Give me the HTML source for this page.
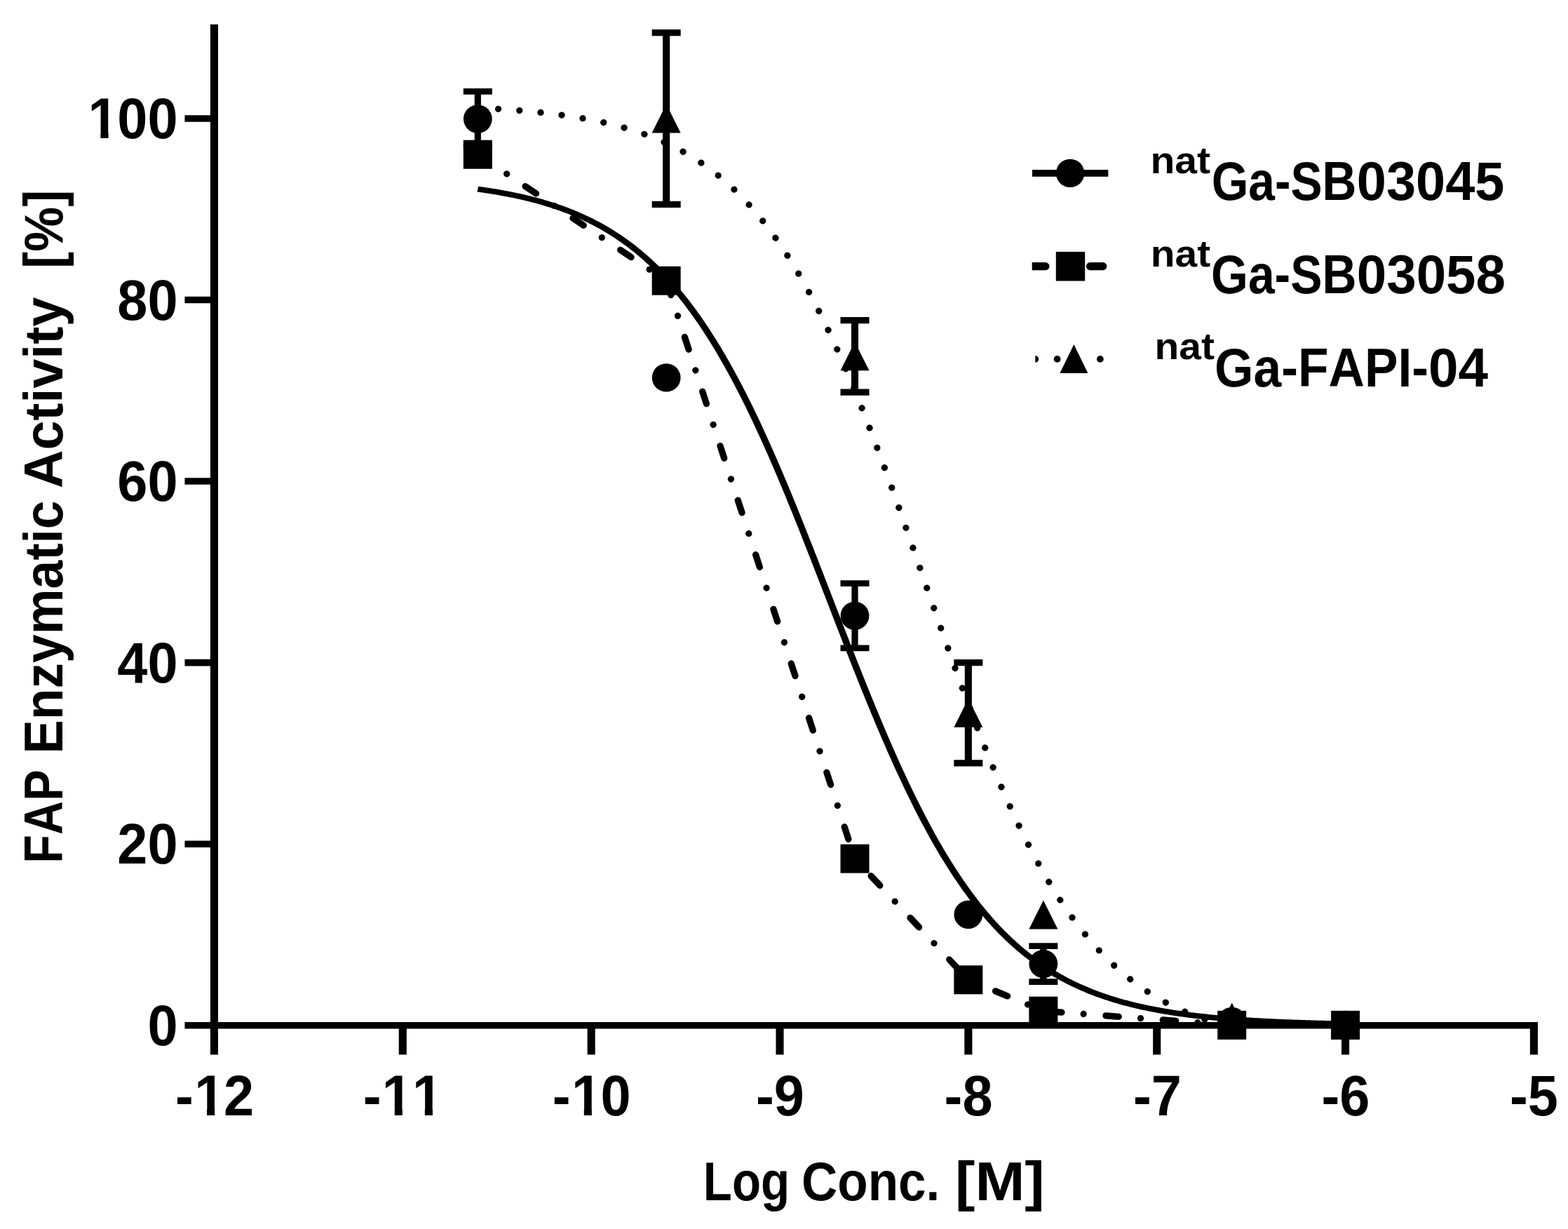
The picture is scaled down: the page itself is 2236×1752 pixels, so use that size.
<!DOCTYPE html>
<html lang="en">
<head>
<meta charset="utf-8">
<title>FAP Enzymatic Activity vs Log Conc.</title>
<style>
html,body{margin:0;padding:0;background:#fff;}
body{width:2236px;height:1752px;overflow:hidden;}
svg{display:block;}
text{font-family:"Liberation Sans",sans-serif;font-weight:bold;fill:#000;font-kerning:none;}
.tick{font-size:82.0px;}
.lab{font-size:78px;}
.sup{font-size:54.5px;}
.vx{stroke:#000;stroke-width:11.1;fill:none;}
.hx{stroke:#000;stroke-width:9.6;fill:none;}
.eb{stroke:#000;stroke-width:10.0;fill:none;}
.cv{stroke:#000;stroke-width:9.3;fill:none;stroke-linejoin:round;}
.mk{fill:#000;stroke:none;}
.wm{fill:#fff;stroke:none;}
</style>
</head>
<body>
<svg xmlns="http://www.w3.org/2000/svg" width="2236" height="1752" viewBox="0 0 2236 1752">
<rect x="0" y="0" width="2236" height="1752" fill="#fff"/>

<g id="axes">
<line class="vx" x1="305.45" y1="34.87" x2="305.45" y2="1503.45"/>
<line class="hx" x1="263.45" y1="1461.75" x2="2192.95" y2="1461.75"/>
<line class="hx" x1="263.45" y1="1203.19" x2="305.45" y2="1203.19"/>
<line class="hx" x1="263.45" y1="944.63" x2="305.45" y2="944.63"/>
<line class="hx" x1="263.45" y1="686.07" x2="305.45" y2="686.07"/>
<line class="hx" x1="263.45" y1="427.51" x2="305.45" y2="427.51"/>
<line class="hx" x1="263.45" y1="168.95" x2="305.45" y2="168.95"/>
<line class="vx" x1="574.3" y1="1461.75" x2="574.3" y2="1503.45"/>
<line class="vx" x1="843.15" y1="1461.75" x2="843.15" y2="1503.45"/>
<line class="vx" x1="1112" y1="1461.75" x2="1112" y2="1503.45"/>
<line class="vx" x1="1380.85" y1="1461.75" x2="1380.85" y2="1503.45"/>
<line class="vx" x1="1649.7" y1="1461.75" x2="1649.7" y2="1503.45"/>
<line class="vx" x1="1918.55" y1="1461.75" x2="1918.55" y2="1503.45"/>
<line class="vx" x1="2187.4" y1="1461.75" x2="2187.4" y2="1503.45"/>
</g>
<g id="ticklabels" class="tick">
<text transform="translate(210.38,1489.75) scale(0.945,1)" x="0" y="0">0</text>
<text transform="translate(167.29,1231.19) scale(0.945,1)" x="0 45.6" y="0">20</text>
<text transform="translate(167.29,972.63) scale(0.945,1)" x="0 45.6" y="0">40</text>
<text transform="translate(167.29,714.07) scale(0.945,1)" x="0 45.6" y="0">60</text>
<text transform="translate(167.29,455.51) scale(0.945,1)" x="0 45.6" y="0">80</text>
<text transform="translate(124.19,196.95) scale(0.945,1)" x="1.48 45.6 91.21" y="0">100</text>
<rect class="wm" x="129.37" y="186.98" width="14.05" height="11.37"/>
<rect class="wm" x="154.56" y="186.98" width="13.28" height="11.37"/>
<text transform="translate(249.99,1590.3) scale(0.945,1)" x="0 28.79 72.91" y="0">-12</text>
<rect class="wm" x="280.98" y="1580.33" width="14.05" height="11.37"/>
<rect class="wm" x="306.16" y="1580.33" width="13.28" height="11.37"/>
<text transform="translate(517.67,1590.3) scale(0.945,1)" x="0 28.79 74.39" y="0">-11</text>
<rect class="wm" x="548.65" y="1580.33" width="14.05" height="11.37"/>
<rect class="wm" x="573.84" y="1580.33" width="13.28" height="11.37"/>
<rect class="wm" x="591.75" y="1580.33" width="14.05" height="11.37"/>
<rect class="wm" x="616.94" y="1580.33" width="13.28" height="11.37"/>
<text transform="translate(787.73,1590.3) scale(0.945,1)" x="0 28.79 72.91" y="0">-10</text>
<rect class="wm" x="818.72" y="1580.33" width="14.05" height="11.37"/>
<rect class="wm" x="843.9" y="1580.33" width="13.28" height="11.37"/>
<text transform="translate(1077.97,1590.3) scale(0.945,1)" x="0 27.31" y="0">-9</text>
<text transform="translate(1346.58,1590.3) scale(0.945,1)" x="0 27.31" y="0">-8</text>
<text transform="translate(1615.94,1590.3) scale(0.945,1)" x="0 27.31" y="0">-7</text>
<text transform="translate(1884.49,1590.3) scale(0.945,1)" x="0 27.31" y="0">-6</text>
<text transform="translate(2153.01,1590.3) scale(0.945,1)" x="0 27.31" y="0">-5</text>
</g>
<g id="seriesA">
<path class="mk" d="M676.7,130.3 h9.2 V208.9 h-9.2 Z M660.8,125.9 h41 v8.8 h-41 Z M660.8,204.5 h41 v8.8 h-41 Z"/>

<path class="mk" d="M1214.4,831.7 h9.2 V923.9 h-9.2 Z M1198.5,827.3 h41 v8.8 h-41 Z M1198.5,919.5 h41 v8.8 h-41 Z"/>

<path class="mk" d="M1483.25,1348.55 h9.2 V1399.55 h-9.2 Z M1467.35,1344.15 h41 v8.8 h-41 Z M1467.35,1395.15 h41 v8.8 h-41 Z"/>


<path class="cv" style="stroke-width:7.9" transform="scale(1.2152,1)" d="M560.66,269.58 L562.87,269.95 L565.08,270.32 L567.30,270.71 L569.51,271.10 L571.72,271.51 L573.94,271.92 L576.15,272.34 L578.36,272.77 L580.58,273.21 L582.79,273.67 L585.00,274.13 L587.22,274.60 L589.43,275.08 L591.64,275.57 L593.86,276.08 L596.07,276.59 L598.28,277.12 L600.50,277.66 L602.71,278.21 L604.92,278.77 L607.14,279.35 L609.35,279.93 L611.56,280.54 L613.78,281.15 L615.99,281.78 L618.20,282.42 L620.42,283.08 L622.63,283.75 L624.84,284.44 L627.06,285.14 L629.27,285.85 L631.48,286.59 L633.70,287.33 L635.91,288.10 L638.12,288.88 L640.34,289.68 L642.55,290.50 L644.76,291.33 L646.98,292.18 L649.19,293.05 L651.40,293.94 L653.62,294.85 L655.83,295.78 L658.04,296.73 L660.26,297.70 L662.47,298.69 L664.68,299.70 L666.90,300.74 L669.11,301.79 L671.32,302.87 L673.54,303.97 L675.75,305.10 L677.96,306.25 L680.18,307.42 L682.39,308.62 L684.60,309.84 L686.82,311.09 L689.03,312.37 L691.24,313.67 L693.46,315.00 L695.67,316.36 L697.88,317.75 L700.10,319.16 L702.31,320.61 L704.52,322.08 L706.74,323.59 L708.95,325.12 L711.16,326.69 L713.38,328.29 L715.59,329.92 L717.80,331.58 L720.02,333.28 L722.23,335.02 L724.44,336.78 L726.66,338.59 L728.87,340.43 L731.08,342.30 L733.30,344.22 L735.51,346.17 L737.72,348.16 L739.94,350.18 L742.15,352.25 L744.37,354.36 L746.58,356.51 L748.79,358.70 L751.01,360.93 L753.22,363.21 L755.43,365.53 L757.65,367.89 L759.86,370.30 L762.07,372.75 L764.29,375.25 L766.50,377.79 L768.71,380.39 L770.93,383.02 L773.14,385.71 L775.35,388.45 L777.57,391.23 L779.78,394.07 L781.99,396.95 L784.21,399.89 L786.42,402.88 L788.63,405.92 L790.85,409.02 L793.06,412.16 L795.27,415.37 L797.49,418.62 L799.70,421.93 L801.91,425.30 L804.13,428.72 L806.34,432.20 L808.55,435.73 L810.77,439.33 L812.98,442.98 L815.19,446.69 L817.41,450.45 L819.62,454.28 L821.83,458.17 L824.05,462.11 L826.26,466.12 L828.47,470.18 L830.69,474.31 L832.90,478.50 L835.11,482.74 L837.33,487.05 L839.54,491.42 L841.75,495.85 L843.97,500.35 L846.18,504.90 L848.39,509.52 L850.61,514.20 L852.82,518.94 L855.03,523.74 L857.25,528.60 L859.46,533.53 L861.67,538.51 L863.89,543.56 L866.10,548.67 L868.31,553.83 L870.53,559.06 L872.74,564.35 L874.95,569.70 L877.17,575.10 L879.38,580.57 L881.59,586.09 L883.81,591.67 L886.02,597.31 L888.23,603.01 L890.45,608.76 L892.66,614.56 L894.87,620.42 L897.09,626.33 L899.30,632.29 L901.51,638.31 L903.73,644.37 L905.94,650.49 L908.15,656.65 L910.37,662.87 L912.58,669.12 L914.79,675.43 L917.01,681.77 L919.22,688.16 L921.43,694.59 L923.65,701.06 L925.86,707.57 L928.07,714.12 L930.29,720.70 L932.50,727.32 L934.72,733.97 L936.93,740.65 L939.14,747.37 L941.36,754.11 L943.57,760.87 L945.78,767.66 L948.00,774.48 L950.21,781.32 L952.42,788.17 L954.64,795.05 L956.85,801.94 L959.06,808.84 L961.28,815.76 L963.49,822.69 L965.70,829.63 L967.92,836.58 L970.13,843.53 L972.34,850.49 L974.56,857.44 L976.77,864.40 L978.98,871.36 L981.20,878.31 L983.41,885.26 L985.62,892.20 L987.84,899.13 L990.05,906.05 L992.26,912.95 L994.48,919.85 L996.69,926.72 L998.90,933.58 L1001.12,940.42 L1003.33,947.23 L1005.54,954.03 L1007.76,960.79 L1009.97,967.54 L1012.18,974.25 L1014.40,980.93 L1016.61,987.59 L1018.82,994.21 L1021.04,1000.79 L1023.25,1007.34 L1025.46,1013.85 L1027.68,1020.32 L1029.89,1026.76 L1032.10,1033.15 L1034.32,1039.50 L1036.53,1045.80 L1038.74,1052.06 L1040.96,1058.28 L1043.17,1064.45 L1045.38,1070.56 L1047.60,1076.63 L1049.81,1082.65 L1052.02,1088.62 L1054.24,1094.53 L1056.45,1100.39 L1058.66,1106.20 L1060.88,1111.95 L1063.09,1117.65 L1065.30,1123.29 L1067.52,1128.88 L1069.73,1134.40 L1071.94,1139.87 L1074.16,1145.28 L1076.37,1150.63 L1078.58,1155.92 L1080.80,1161.16 L1083.01,1166.33 L1085.22,1171.44 L1087.44,1176.49 L1089.65,1181.48 L1091.86,1186.41 L1094.08,1191.27 L1096.29,1196.08 L1098.50,1200.82 L1100.72,1205.50 L1102.93,1210.12 L1105.14,1214.68 L1107.36,1219.18 L1109.57,1223.61 L1111.78,1227.99 L1114.00,1232.30 L1116.21,1236.55 L1118.43,1240.74 L1120.64,1244.87 L1122.85,1248.94 L1125.07,1252.95 L1127.28,1256.90 L1129.49,1260.79 L1131.71,1264.62 L1133.92,1268.39 L1136.13,1272.10 L1138.35,1275.75 L1140.56,1279.35 L1142.77,1282.89 L1144.99,1286.37 L1147.20,1289.79 L1149.41,1293.16 L1151.63,1296.48 L1153.84,1299.74 L1156.05,1302.94 L1158.27,1306.09 L1160.48,1309.19 L1162.69,1312.23 L1164.91,1315.23 L1167.12,1318.17 L1169.33,1321.05 L1171.55,1323.89 L1173.76,1326.68 L1175.97,1329.42 L1178.19,1332.11 L1180.40,1334.75 L1182.61,1337.35 L1184.83,1339.89 L1187.04,1342.40 L1189.25,1344.85 L1191.47,1347.26 L1193.68,1349.63 L1195.89,1351.95 L1198.11,1354.22 L1200.32,1356.46 L1202.53,1358.65 L1204.75,1360.80 L1206.96,1362.92 L1209.17,1364.99 L1211.39,1367.02 L1213.60,1369.01 L1215.81,1370.96 L1218.03,1372.88 L1220.24,1374.76 L1222.45,1376.60 L1224.67,1378.40 L1226.88,1380.17 L1229.09,1381.91 L1231.31,1383.61 L1233.52,1385.27 L1235.73,1386.91 L1237.95,1388.51 L1240.16,1390.08 L1242.37,1391.62 L1244.59,1393.12 L1246.80,1394.60 L1249.01,1396.04 L1251.23,1397.46 L1253.44,1398.85 L1255.65,1400.21 L1257.87,1401.54 L1260.08,1402.84 L1262.29,1404.12 L1264.51,1405.37 L1266.72,1406.60 L1268.93,1407.80 L1271.15,1408.97 L1273.36,1410.12 L1275.57,1411.25 L1277.79,1412.35 L1280.00,1413.43 L1282.21,1414.49 L1284.43,1415.52 L1286.64,1416.54 L1288.85,1417.53 L1291.07,1418.50 L1293.28,1419.45 L1295.49,1420.38 L1297.71,1421.29 L1299.92,1422.18 L1302.14,1423.06 L1304.35,1423.91 L1306.56,1424.74 L1308.78,1425.56 L1310.99,1426.36 L1313.20,1427.14 L1315.42,1427.91 L1317.63,1428.66 L1319.84,1429.39 L1322.06,1430.11 L1324.27,1430.81 L1326.48,1431.50 L1328.70,1432.17 L1330.91,1432.83 L1333.12,1433.47 L1335.34,1434.10 L1337.55,1434.72 L1339.76,1435.32 L1341.98,1435.91 L1344.19,1436.48 L1346.40,1437.05 L1348.62,1437.60 L1350.83,1438.14 L1353.04,1438.67 L1355.26,1439.18 L1357.47,1439.69 L1359.68,1440.18 L1361.90,1440.66 L1364.11,1441.13 L1366.32,1441.60 L1368.54,1442.05 L1370.75,1442.49 L1372.96,1442.92 L1375.18,1443.34 L1377.39,1443.76 L1379.60,1444.16 L1381.82,1444.55 L1384.03,1444.94 L1386.24,1445.32 L1388.46,1445.69 L1390.67,1446.05 L1392.88,1446.40 L1395.10,1446.75 L1397.31,1447.08 L1399.52,1447.41 L1401.74,1447.74 L1403.95,1448.05 L1406.16,1448.36 L1408.38,1448.66 L1410.59,1448.96 L1412.80,1449.25 L1415.02,1449.53 L1417.23,1449.80 L1419.44,1450.07 L1421.66,1450.34 L1423.87,1450.59 L1426.08,1450.85 L1428.30,1451.09 L1430.51,1451.33 L1432.72,1451.57 L1434.94,1451.80 L1437.15,1452.02 L1439.36,1452.24 L1441.58,1452.46 L1443.79,1452.67 L1446.00,1452.87 L1448.22,1453.07 L1450.43,1453.27 L1452.64,1453.46 L1454.86,1453.65 L1457.07,1453.83 L1459.28,1454.01 L1461.50,1454.19 L1463.71,1454.36 L1465.92,1454.52 L1468.14,1454.69 L1470.35,1454.85 L1472.56,1455.00 L1474.78,1455.16 L1476.99,1455.31 L1479.20,1455.45 L1481.42,1455.60 L1483.63,1455.73 L1485.85,1455.87 L1488.06,1456.00 L1490.27,1456.13 L1492.49,1456.26 L1494.70,1456.39 L1496.91,1456.51 L1499.13,1456.63 L1501.34,1456.74 L1503.55,1456.86 L1505.77,1456.97 L1507.98,1457.08 L1510.19,1457.18 L1512.41,1457.29 L1514.62,1457.39 L1516.83,1457.49 L1519.05,1457.58 L1521.26,1457.68 L1523.47,1457.77 L1525.69,1457.86 L1527.90,1457.95 L1530.11,1458.03 L1532.33,1458.12 L1534.54,1458.20 L1536.75,1458.28 L1538.97,1458.36 L1541.18,1458.44 L1543.39,1458.51 L1545.61,1458.59 L1547.82,1458.66 L1550.03,1458.73 L1552.25,1458.80 L1554.46,1458.86 L1556.67,1458.93 L1558.89,1458.99 L1561.10,1459.06 L1563.31,1459.12 L1565.53,1459.18 L1567.74,1459.24 L1569.95,1459.29 L1572.17,1459.35 L1574.38,1459.40 L1576.59,1459.46 L1578.81,1459.51"/>
<ellipse class="mk" cx="681.3" cy="169.6" rx="20.4" ry="20.2"/>
<ellipse class="mk" cx="950.15" cy="538.4" rx="20.4" ry="20.2"/>
<ellipse class="mk" cx="1219" cy="877.8" rx="20.4" ry="20.2"/>
<ellipse class="mk" cx="1380.85" cy="1303.8" rx="20.4" ry="20.2"/>
<ellipse class="mk" cx="1487.85" cy="1374.05" rx="20.4" ry="20.2"/>
<ellipse class="mk" cx="1756.7" cy="1456" rx="20.4" ry="20.2"/>
<ellipse class="mk" cx="1918.55" cy="1461" rx="20.4" ry="20.2"/>
</g>
<g id="seriesB">
<path class="cv" stroke-linecap="round" stroke-dasharray="18.5 31.3 0.01 31.79" d="M681.30,220.20 L950.15,400.20 L1219.00,1224.10 L1380.85,1396.80 L1487.85,1441.20 L1756.70,1461.40 L1918.55,1461.40"/>
<rect class="mk" x="660.8" y="199.7" width="41.0" height="41.0"/>
<rect class="mk" x="929.65" y="379.7" width="41.0" height="41.0"/>
<rect class="mk" x="1198.5" y="1203.6" width="41.0" height="41.0"/>
<rect class="mk" x="1360.35" y="1376.3" width="41.0" height="41.0"/>
<rect class="mk" x="1467.35" y="1420.7" width="41.0" height="41.0"/>
<rect class="mk" x="1736.2" y="1440.9" width="41.0" height="41.0"/>
<rect class="mk" x="1898.05" y="1440.9" width="41.0" height="41.0"/>
</g>
<g id="seriesC">
<path class="mk" d="M945.1,46.6 h10.1 V291.4 h-10.1 Z M929.65,42 h41 v9.2 h-41 Z M929.65,286.8 h41 v9.2 h-41 Z"/>
<path class="mk" d="M1213.95,456.6 h10.1 V559.1 h-10.1 Z M1198.5,452 h41 v9.2 h-41 Z M1198.5,554.5 h41 v9.2 h-41 Z"/>
<path class="mk" d="M1375.8,944.7 h10.1 V1087.9 h-10.1 Z M1360.35,940.1 h41 v9.2 h-41 Z M1360.35,1083.3 h41 v9.2 h-41 Z"/>



<path class="cv" stroke-linecap="round" stroke-dasharray="0.01 30.29" stroke-dashoffset="1.0" d="M681.30,153.72 L683.99,153.86 L686.68,154.00 L689.37,154.14 L692.06,154.28 L694.75,154.43 L697.44,154.58 L700.13,154.74 L702.82,154.90 L705.51,155.06 L708.20,155.23 L710.89,155.40 L713.58,155.57 L716.27,155.75 L718.96,155.93 L721.65,156.12 L724.34,156.31 L727.03,156.50 L729.72,156.70 L732.41,156.91 L735.10,157.12 L737.79,157.33 L740.48,157.55 L743.16,157.77 L745.85,158.00 L748.54,158.24 L751.23,158.48 L753.92,158.72 L756.61,158.97 L759.30,159.23 L761.99,159.49 L764.68,159.76 L767.37,160.03 L770.06,160.31 L772.75,160.60 L775.44,160.89 L778.13,161.19 L780.82,161.50 L783.51,161.82 L786.20,162.14 L788.89,162.47 L791.58,162.80 L794.27,163.15 L796.96,163.50 L799.65,163.86 L802.34,164.23 L805.03,164.60 L807.72,164.99 L810.41,165.38 L813.10,165.78 L815.79,166.19 L818.48,166.62 L821.17,167.05 L823.85,167.49 L826.54,167.94 L829.23,168.40 L831.92,168.87 L834.61,169.35 L837.30,169.84 L839.99,170.34 L842.68,170.86 L845.37,171.38 L848.06,171.92 L850.75,172.47 L853.44,173.04 L856.13,173.61 L858.82,174.20 L861.51,174.80 L864.20,175.41 L866.89,176.04 L869.58,176.68 L872.27,177.34 L874.96,178.01 L877.65,178.70 L880.34,179.40 L883.03,180.12 L885.72,180.85 L888.41,181.60 L891.10,182.37 L893.79,183.15 L896.48,183.95 L899.17,184.77 L901.86,185.60 L904.54,186.46 L907.23,187.33 L909.92,188.22 L912.61,189.13 L915.30,190.06 L917.99,191.01 L920.68,191.99 L923.37,192.98 L926.06,194.00 L928.75,195.03 L931.44,196.09 L934.13,197.18 L936.82,198.28 L939.51,199.41 L942.20,200.57 L944.89,201.74 L947.58,202.95 L950.27,204.18 L952.96,205.43 L955.65,206.72 L958.34,208.03 L961.03,209.36 L963.72,210.73 L966.41,212.13 L969.10,213.55 L971.79,215.00 L974.48,216.49 L977.17,218.01 L979.86,219.55 L982.55,221.13 L985.23,222.75 L987.92,224.39 L990.61,226.07 L993.30,227.79 L995.99,229.53 L998.68,231.32 L1001.37,233.14 L1004.06,235.00 L1006.75,236.90 L1009.44,238.83 L1012.13,240.80 L1014.82,242.82 L1017.51,244.87 L1020.20,246.97 L1022.89,249.10 L1025.58,251.28 L1028.27,253.50 L1030.96,255.77 L1033.65,258.07 L1036.34,260.43 L1039.03,262.83 L1041.72,265.27 L1044.41,267.77 L1047.10,270.31 L1049.79,272.89 L1052.48,275.53 L1055.17,278.22 L1057.86,280.96 L1060.55,283.75 L1063.24,286.59 L1065.92,289.48 L1068.61,292.43 L1071.30,295.43 L1073.99,298.48 L1076.68,301.59 L1079.37,304.76 L1082.06,307.98 L1084.75,311.26 L1087.44,314.59 L1090.13,317.99 L1092.82,321.44 L1095.51,324.96 L1098.20,328.53 L1100.89,332.16 L1103.58,335.86 L1106.27,339.62 L1108.96,343.44 L1111.65,347.32 L1114.34,351.27 L1117.03,355.28 L1119.72,359.35 L1122.41,363.49 L1125.10,367.70 L1127.79,371.97 L1130.48,376.31 L1133.17,380.71 L1135.86,385.18 L1138.55,389.72 L1141.24,394.33 L1143.93,399.00 L1146.62,403.74 L1149.30,408.55 L1151.99,413.43 L1154.68,418.37 L1157.37,423.39 L1160.06,428.47 L1162.75,433.63 L1165.44,438.85 L1168.13,444.14 L1170.82,449.50 L1173.51,454.92 L1176.20,460.42 L1178.89,465.98 L1181.58,471.62 L1184.27,477.32 L1186.96,483.08 L1189.65,488.92 L1192.34,494.82 L1195.03,500.79 L1197.72,506.82 L1200.41,512.92 L1203.10,519.08 L1205.79,525.31 L1208.48,531.60 L1211.17,537.96 L1213.86,544.37 L1216.55,550.85 L1219.24,557.39 L1221.93,563.98 L1224.62,570.64 L1227.31,577.35 L1229.99,584.12 L1232.68,590.94 L1235.37,597.82 L1238.06,604.75 L1240.75,611.73 L1243.44,618.76 L1246.13,625.84 L1248.82,632.97 L1251.51,640.15 L1254.20,647.37 L1256.89,654.63 L1259.58,661.93 L1262.27,669.28 L1264.96,676.66 L1267.65,684.08 L1270.34,691.53 L1273.03,699.02 L1275.72,706.54 L1278.41,714.09 L1281.10,721.66 L1283.79,729.26 L1286.48,736.89 L1289.17,744.54 L1291.86,752.20 L1294.55,759.89 L1297.24,767.59 L1299.93,775.31 L1302.62,783.04 L1305.31,790.78 L1308.00,798.52 L1310.68,806.28 L1313.37,814.03 L1316.06,821.79 L1318.75,829.55 L1321.44,837.31 L1324.13,845.06 L1326.82,852.81 L1329.51,860.54 L1332.20,868.27 L1334.89,875.99 L1337.58,883.69 L1340.27,891.37 L1342.96,899.04 L1345.65,906.68 L1348.34,914.31 L1351.03,921.91 L1353.72,929.48 L1356.41,937.02 L1359.10,944.54 L1361.79,952.02 L1364.48,959.47 L1367.17,966.89 L1369.86,974.27 L1372.55,981.61 L1375.24,988.91 L1377.93,996.17 L1380.62,1003.38 L1383.31,1010.55 L1386.00,1017.68 L1388.69,1024.75 L1391.37,1031.78 L1394.06,1038.76 L1396.75,1045.68 L1399.44,1052.55 L1402.13,1059.37 L1404.82,1066.14 L1407.51,1072.84 L1410.20,1079.49 L1412.89,1086.08 L1415.58,1092.61 L1418.27,1099.08 L1420.96,1105.49 L1423.65,1111.84 L1426.34,1118.13 L1429.03,1124.35 L1431.72,1130.51 L1434.41,1136.60 L1437.10,1142.63 L1439.79,1148.59 L1442.48,1154.48 L1445.17,1160.31 L1447.86,1166.07 L1450.55,1171.77 L1453.24,1177.39 L1455.93,1182.95 L1458.62,1188.44 L1461.31,1193.86 L1464.00,1199.21 L1466.69,1204.50 L1469.38,1209.71 L1472.06,1214.86 L1474.75,1219.94 L1477.44,1224.94 L1480.13,1229.88 L1482.82,1234.76 L1485.51,1239.56 L1488.20,1244.29 L1490.89,1248.96 L1493.58,1253.56 L1496.27,1258.09 L1498.96,1262.55 L1501.65,1266.95 L1504.34,1271.28 L1507.03,1275.55 L1509.72,1279.75 L1512.41,1283.88 L1515.10,1287.95 L1517.79,1291.95 L1520.48,1295.89 L1523.17,1299.77 L1525.86,1303.59 L1528.55,1307.34 L1531.24,1311.03 L1533.93,1314.66 L1536.62,1318.22 L1539.31,1321.73 L1542.00,1325.18 L1544.69,1328.57 L1547.38,1331.90 L1550.07,1335.17 L1552.76,1338.39 L1555.44,1341.55 L1558.13,1344.66 L1560.82,1347.70 L1563.51,1350.70 L1566.20,1353.64 L1568.89,1356.53 L1571.58,1359.36 L1574.27,1362.15 L1576.96,1364.88 L1579.65,1367.56 L1582.34,1370.20 L1585.03,1372.78 L1587.72,1375.32 L1590.41,1377.80 L1593.10,1380.25 L1595.79,1382.64 L1598.48,1384.99 L1601.17,1387.29 L1603.86,1389.55 L1606.55,1391.77 L1609.24,1393.95 L1611.93,1396.08 L1614.62,1398.17 L1617.31,1400.22 L1620.00,1402.23 L1622.69,1404.20 L1625.38,1406.13 L1628.07,1408.02 L1630.76,1409.88 L1633.45,1411.69 L1636.13,1413.48 L1638.82,1415.22 L1641.51,1416.93 L1644.20,1418.61 L1646.89,1420.25 L1649.58,1421.86 L1652.27,1423.44 L1654.96,1424.98 L1657.65,1426.50 L1660.34,1427.98 L1663.03,1429.43 L1665.72,1430.85 L1668.41,1432.24 L1671.10,1433.61 L1673.79,1434.94 L1676.48,1436.25 L1679.17,1437.53 L1681.86,1438.78 L1684.55,1440.01 L1687.24,1441.21 L1689.93,1442.39 L1692.62,1443.54 L1695.31,1444.67 L1698.00,1445.77 L1700.69,1446.85 L1703.38,1447.91 L1706.07,1448.94 L1708.76,1449.96 L1711.45,1450.95 L1714.14,1451.92 L1716.82,1452.87 L1719.51,1453.80 L1722.20,1454.71 L1724.89,1455.60 L1727.58,1456.47 L1730.27,1457.32 L1732.96,1458.15 L1735.65,1458.97 L1738.34,1459.77 L1741.03,1460.55 L1743.72,1461.31 L1746.41,1462.06"/>
<polygon class="mk" points="950.15,148.5 970.65,189.5 929.65,189.5"/>
<polygon class="mk" points="1219,487.35 1239.5,528.35 1198.5,528.35"/>
<polygon class="mk" points="1380.85,995.8 1401.35,1036.8 1360.35,1036.8"/>
<polygon class="mk" points="1487.85,1283.5 1508.35,1324.5 1467.35,1324.5"/>
<polygon class="mk" points="1756.7,1429.5 1777.2,1470.5 1736.2,1470.5"/>
<polygon class="mk" points="1918.55,1440.5 1939.05,1481.5 1898.05,1481.5"/>
</g>
<g id="legend">
<rect class="mk" x="1472" y="242" width="108.3" height="9.8"/>
<circle class="mk" cx="1526.1" cy="246.9" r="20.2"/>
<path class="mk" d="M1471.7,374 H1491 a5.6,5.6 0 0 1 0,11.2 H1471.7 Z"/>
<line x1="1554.5" y1="379.6" x2="1572.8" y2="379.6" stroke="#000" stroke-width="11.2" stroke-linecap="round"/>
<rect class="mk" x="1505.8" y="358.9" width="41.4" height="41.6"/>
<path class="mk" d="M1476.3,507 a4.9,4.9 0 0 1 0,9.8 Z"/>
<circle class="mk" cx="1507.6" cy="511.9" r="4.9"/>
<circle class="mk" cx="1568.9" cy="511.9" r="4.9"/>
<polygon class="mk" points="1531.4,491 1551.4,532.1 1511.4,532.1"/>
<text class="lab" y="284.5"><tspan class="sup" x="1640.54" dy="-37.6" textLength="85.56" lengthAdjust="spacingAndGlyphs">nat</tspan><tspan x="1727.73" dy="37.6" textLength="206.75" lengthAdjust="spacingAndGlyphs">Ga-SB</tspan><tspan x="1934.8" textLength="210.6" lengthAdjust="spacingAndGlyphs">03045</tspan></text>
<text class="lab" y="417.6"><tspan class="sup" x="1640.75" dy="-37.9" textLength="85.35" lengthAdjust="spacingAndGlyphs">nat</tspan><tspan x="1727.12" dy="37.9" textLength="207.36" lengthAdjust="spacingAndGlyphs">Ga-SB</tspan><tspan x="1934.78" textLength="212.16" lengthAdjust="spacingAndGlyphs">03058</tspan></text>
<text class="lab" y="550.5"><tspan class="sup" x="1646.55" dy="-38.8" textLength="85.35" lengthAdjust="spacingAndGlyphs">nat</tspan><tspan x="1732.08" dy="38.8" textLength="304.88" lengthAdjust="spacingAndGlyphs">Ga-FAPI-</tspan><tspan x="2036.88" textLength="85.03" lengthAdjust="spacingAndGlyphs">04</tspan></text>
</g>
<g id="titles" class="lab">
<text y="1710.9"><tspan x="1002.8" textLength="123.3" lengthAdjust="spacingAndGlyphs">Log</tspan> <tspan x="1143.09" textLength="197.1" lengthAdjust="spacingAndGlyphs">Conc.</tspan> <tspan x="1362.01" textLength="127.77" lengthAdjust="spacingAndGlyphs">[M]</tspan></text>
<text transform="rotate(-90)" y="89.1"><tspan x="-1230.66" textLength="133.34" lengthAdjust="spacingAndGlyphs">FAP</tspan> <tspan x="-1074.68" textLength="361.02" lengthAdjust="spacingAndGlyphs">Enzymatic</tspan> <tspan x="-696.08" textLength="272.48" lengthAdjust="spacingAndGlyphs">Activity</tspan>  <tspan x="-382.74" textLength="111.99" lengthAdjust="spacingAndGlyphs">[%]</tspan></text>
</g>
</svg>
</body>
</html>
